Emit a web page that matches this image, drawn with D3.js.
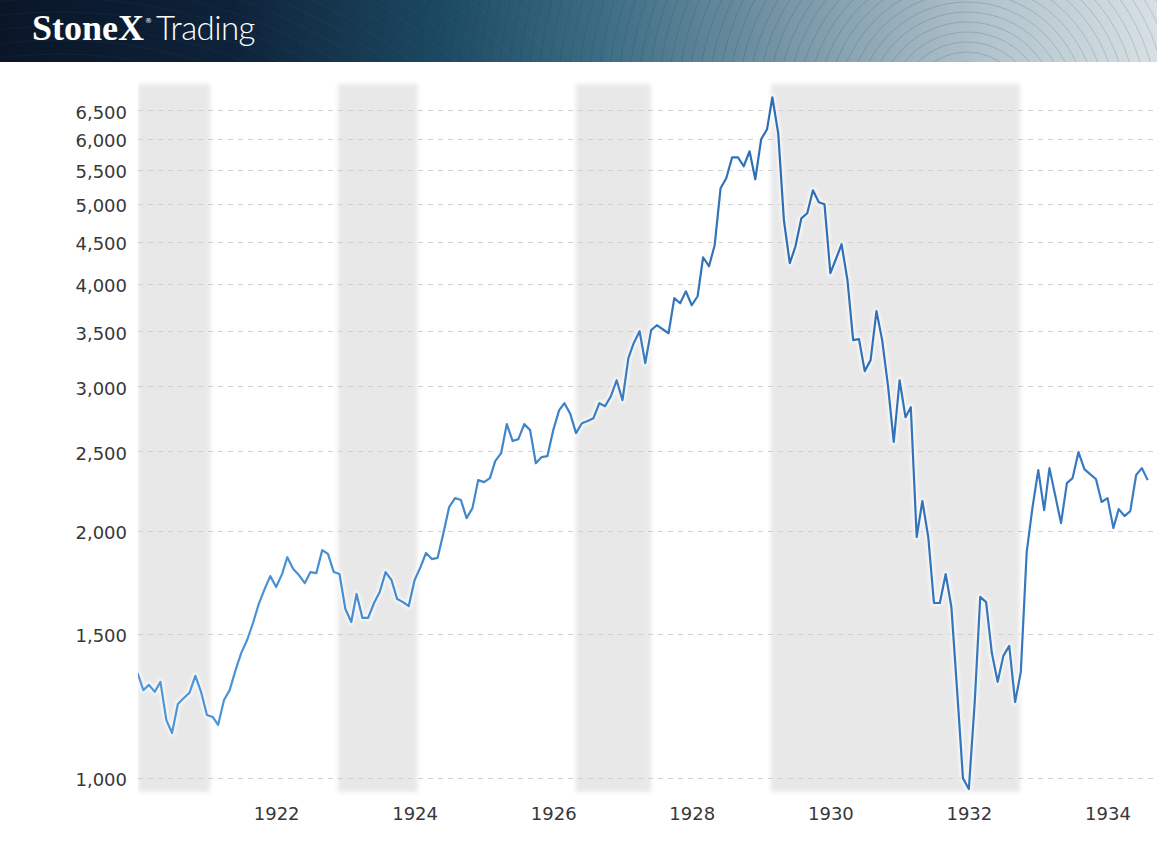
<!DOCTYPE html>
<html>
<head>
<meta charset="utf-8">
<script src="https://cdn.jsdelivr.net/npm/d3@7"></script>
<style>
  html, body { margin: 0; padding: 0; background: #fff; }
  svg { display: block; }
</style>
</head>
<body>
<svg id="chart" width="1157" height="853"></svg>
<script>
// Monthly index values, starting January 1920
const startMonth = '1920-01';
const values = [
  1343, 1280, 1299, 1274, 1310, 1177, 1135, 1231, 1252, 1270, 1332, 1274,
  1194, 1187, 1161, 1245, 1280, 1354, 1421, 1473, 1545, 1629, 1699, 1762,
  1709, 1772, 1858, 1797, 1767, 1728, 1782, 1777, 1895, 1875, 1782, 1772,
  1607, 1549, 1676, 1567, 1567, 1634, 1685, 1782, 1743, 1652, 1638, 1620,
  1743, 1807, 1880, 1848, 1854, 1988, 2138, 2193, 2181, 2073, 2132, 2306,
  2293, 2319, 2432, 2487, 2698, 2573, 2587, 2698, 2653, 2418, 2460, 2466,
  2653, 2806, 2861, 2775, 2631, 2705, 2721, 2743, 2861, 2837, 2918, 3051,
  2885, 3246, 3385, 3501, 3201, 3511, 3560, 3520, 3481, 3840, 3786, 3915,
  3765, 3861, 4307, 4200, 4455, 5225, 5374, 5700, 5700, 5559, 5797, 5359,
  5995, 6165, 6744, 6096, 4778, 4236, 4442, 4804, 4872, 5196, 5024, 4996,
  4119, 4295, 4467, 4039, 3414, 3423, 3130, 3228, 3703, 3414, 3001, 2566,
  3051, 2751, 2829, 1966, 2175, 1966, 1634, 1634, 1772, 1616, 1270, 1000,
  970, 1238, 1662, 1638, 1421, 1310, 1409, 1449, 1238, 1347, 1885, 2132,
  2372, 2120, 2385, 2205, 2044, 2287, 2319, 2495, 2378, 2345, 2313, 2169,
  2193, 2016, 2126, 2085, 2114, 2339, 2385, 2306
];

// Shaded periods
const bands = [
  ['1919-07-01', '1921-01-17'],
  ['1922-11-24', '1924-01-16'],
  ['1926-04-29', '1927-05-31'],
  ['1929-02-22', '1932-09-26']
];

const yTicks = [1000, 1500, 2000, 2500, 3000, 3500, 4000, 4500, 5000, 5500, 6000, 6500];
const xTickYears = [1922, 1924, 1926, 1928, 1930, 1932, 1934];

const svg = d3.select('#chart');
const width = +svg.attr('width');
const height = +svg.attr('height');
const plot = { left: 138, right: width, top: 84, bottom: 792 };

const parseMonth = d3.timeParse('%Y-%m');
const parseDay = d3.timeParse('%Y-%m-%d');
const first = parseMonth(startMonth);
const data = values.map((v, i) => ({ date: d3.timeMonth.offset(first, i), value: v }));

const x = d3.scaleTime()
  .domain([new Date(1920, 0, 1), new Date(1934, 0, 1)])
  .range([137.5, 1107.5]);

const y = d3.scaleLog()
  .domain([962, 7000])
  .range([plot.bottom, plot.top]);

const defs = svg.append('defs');

// ---- header ----
const hdrGrad = defs.append('linearGradient').attr('id', 'hdrGrad')
  .attr('x1', 0).attr('x2', 1).attr('y1', 0).attr('y2', 0);
[[0, '#0a1628'], [0.2, '#0d2239'], [0.38, '#1c4962'], [0.52, '#3d6d84'],
 [0.7, '#7e9bab'], [0.85, '#b1c3cc'], [1, '#d7e0e4']].forEach(([o, c]) => {
  hdrGrad.append('stop').attr('offset', o).attr('stop-color', c);
});

defs.append('clipPath').attr('id', 'hdrClip')
  .append('rect').attr('width', width).attr('height', 62);

const header = svg.append('g').attr('clip-path', 'url(#hdrClip)');
header.append('rect').attr('width', width).attr('height', 62).attr('fill', 'url(#hdrGrad)');

header.append('g')
  .selectAll('circle')
  .data(d3.range(50, 700, 10))
  .enter()
  .append('circle')
  .attr('cx', 967).attr('cy', 112).attr('r', d => d)
  .attr('fill', 'none')
  .attr('stroke', 'rgba(30,60,80,0.26)')
  .attr('stroke-width', 0.7);

header.append('g')
  .selectAll('circle')
  .data(d3.range(200, 700, 14))
  .enter()
  .append('circle')
  .attr('cx', 60).attr('cy', 520).attr('r', d => d)
  .attr('fill', 'none')
  .attr('stroke', 'rgba(255,255,255,0.05)')
  .attr('stroke-width', 0.7);

header.append('text')
  .attr('x', 32).attr('y', 40)
  .attr('fill', '#fff')
  .style('font-family', '"Liberation Serif", serif')
  .style('font-weight', 'bold')
  .style('font-size', '36px')
  .text('StoneX');

header.append('text')
  .attr('x', 145).attr('y', 23)
  .attr('fill', '#fff')
  .style('font-family', '"DejaVu Sans", sans-serif')
  .style('font-size', '7px')
  .text('®');

header.append('text')
  .attr('x', 156).attr('y', 40)
  .attr('fill', '#fff')
  .style('font-family', 'Lato, sans-serif')
  .style('font-weight', 300)
  .style('font-size', '33px')
  .style('letter-spacing', '-0.6px')
  .text('Trading');

// ---- shaded bands ----
defs.append('filter').attr('id', 'soft')
  .attr('x', '-5%').attr('y', '-5%').attr('width', '110%').attr('height', '110%')
  .append('feGaussianBlur').attr('stdDeviation', 2);

defs.append('clipPath').attr('id', 'plotClip')
  .append('rect')
  .attr('x', plot.left).attr('y', 0)
  .attr('width', plot.right - plot.left).attr('height', height);

const plotG = svg.append('g').attr('clip-path', 'url(#plotClip)');

plotG.append('g')
  .attr('filter', 'url(#soft)')
  .selectAll('rect')
  .data(bands)
  .enter()
  .append('rect')
  .attr('x', d => Math.max(x(parseDay(d[0])), plot.left))
  .attr('y', plot.top)
  .attr('width', d => x(parseDay(d[1])) - Math.max(x(parseDay(d[0])), plot.left))
  .attr('height', plot.bottom - plot.top)
  .attr('fill', '#e8e8e8');

// ---- grid ----
plotG.append('g')
  .selectAll('line')
  .data(yTicks)
  .enter()
  .append('line')
  .attr('x1', plot.left)
  .attr('x2', plot.right)
  .attr('y1', d => Math.round(y(d)) + 0.5)
  .attr('y2', d => Math.round(y(d)) + 0.5)
  .attr('stroke', '#cfcfcf')
  .attr('stroke-width', 1)
  .attr('stroke-dasharray', '5,5');

// ---- axes labels ----
const yAxis = d3.axisLeft(y)
  .tickValues(yTicks)
  .tickFormat(d3.format(','))
  .tickSize(0)
  .tickPadding(0);

svg.append('g')
  .attr('transform', 'translate(127,2)')
  .call(yAxis)
  .call(g => g.select('.domain').remove())
  .call(g => g.selectAll('text')
    .attr('fill', '#383838')
    .style('font-family', '"DejaVu Sans", Verdana, sans-serif')
    .style('font-size', '18px'));

const xAxis = d3.axisBottom(x)
  .tickValues(xTickYears.map(yr => new Date(yr, 0, 1)))
  .tickFormat(d3.timeFormat('%Y'))
  .tickSize(0)
  .tickPadding(0);

svg.append('g')
  .attr('transform', 'translate(0,807)')
  .call(xAxis)
  .call(g => g.select('.domain').remove())
  .call(g => g.selectAll('text')
    .attr('fill', '#383838')
    .style('font-family', '"DejaVu Sans", Verdana, sans-serif')
    .style('font-size', '18px'));

// ---- line ----
const lineGrad = defs.append('linearGradient').attr('id', 'lineGrad')
  .attr('gradientUnits', 'userSpaceOnUse')
  .attr('x1', plot.left).attr('x2', plot.right).attr('y1', 0).attr('y2', 0);
[[0, '#4f97da'], [0.4, '#3f84c8'], [0.62, '#2f6db3'], [0.8, '#3474bb'], [1, '#3b7ec5']].forEach(([o, c]) => {
  lineGrad.append('stop').attr('offset', o).attr('stop-color', c);
});

defs.append('filter').attr('id', 'halo')
  .append('feGaussianBlur').attr('stdDeviation', 1.5);

const line = d3.line()
  .x(d => x(d.date))
  .y(d => y(d.value));

plotG.append('path')
  .datum(data)
  .attr('d', line)
  .attr('fill', 'none')
  .attr('stroke', '#fff')
  .attr('stroke-width', 6)
  .attr('stroke-opacity', 0.7)
  .attr('stroke-linejoin', 'round')
  .attr('filter', 'url(#halo)');

plotG.append('path')
  .datum(data)
  .attr('d', line)
  .attr('fill', 'none')
  .attr('stroke', 'url(#lineGrad)')
  .attr('stroke-width', 2.2)
  .attr('stroke-linejoin', 'round');
</script>
</body>
</html>
